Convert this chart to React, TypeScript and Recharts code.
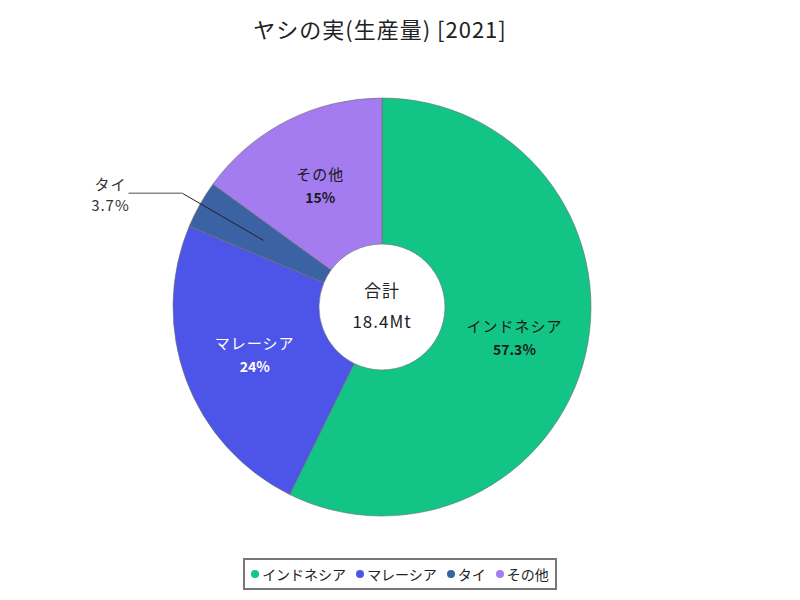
import { PieChart, Pie, Cell, Legend } from 'recharts';

const names = ['インドネシア', 'マレーシア', 'タイ', 'その他'];
const values = [10.54, 4.42, 0.68, 2.76]; // Mt
const colors = ['#13c487', '#4c55e8', '#3b63a3', '#a47cf0'];
const labelColors = ['#1a1a1a', '#ffffff', '#1a1a1a', '#1a1a1a'];
const totalLabel = '18.4Mt';

const data = names.map((name, i) => ({ name, value: values[i] }));
const total = values.reduce((a, b) => a + b, 0);
const font = '"Noto Sans CJK JP", "Noto Sans", sans-serif';
const RAD = Math.PI / 180;

const fmtPct = (v: number) => {
  const s = ((v / total) * 100).toFixed(1);
  return (s.endsWith('.0') ? s.slice(0, -2) : s) + '%';
};

function SliceLabel(props: any) {
  const { cx, cy, midAngle, innerRadius, outerRadius, index } = props;
  const r = (innerRadius + outerRadius) / 2;
  const x = cx + r * Math.cos(-midAngle * RAD);
  const y = cy + r * Math.sin(-midAngle * RAD);
  const name = names[index];
  const pct = fmtPct(values[index]);
  if (values[index] / total < 0.05) {
    // small slice: label outside with a leader line
    const ex = x - 81;
    const ey = y - 47;
    const tx = ex - 54;
    return (
      <g>
        <polyline points={`${x},${y} ${ex},${ey}`} fill="none" stroke="#222" strokeWidth={1} />
        <polyline points={`${ex},${ey} ${tx},${ey}`} fill="none" stroke="#888" strokeWidth={1.5} />
        <text x={tx - 18} y={ey - 10} textAnchor="middle" dominantBaseline="central" fill="#333" fontSize={15} letterSpacing={1} fontFamily={font}>{name}</text>
        <text x={tx - 18} y={ey + 11} textAnchor="middle" dominantBaseline="central" fill="#333" fontSize={15} letterSpacing={1} fontFamily={font}>{pct}</text>
      </g>
    );
  }
  return (
    <g>
      <text x={x} y={y - 12} textAnchor="middle" dominantBaseline="central" fill={labelColors[index]} fontSize={15} letterSpacing={1} fontFamily={font}>{name}</text>
      <text x={x} y={y + 11} textAnchor="middle" dominantBaseline="central" fill={labelColors[index]} fontSize={14} fontWeight="bold" fontFamily={font}>{pct}</text>
    </g>
  );
}

function LegendBox() {
  return (
    <div style={{ display: 'flex', justifyContent: 'center' }}>
      <div style={{ display: 'flex', alignItems: 'center', border: '2px solid #777', padding: '3px 6px', height: 22, fontFamily: font, fontSize: 14, color: '#222', whiteSpace: 'nowrap' }}>
        {names.map((n, i) => (
          <span key={n} style={{ display: 'flex', alignItems: 'center', marginRight: i < names.length - 1 ? 10 : 0 }}>
            <span style={{ width: 8, height: 8, borderRadius: 4, background: colors[i], marginRight: 3, display: 'inline-block' }} />
            {n}
          </span>
        ))}
      </div>
    </div>
  );
}

export default function App() {
  return (
    <div style={{ position: 'absolute', left: 0, top: 0, width: 800, height: 600, background: '#fff', fontFamily: font }}>
      <div style={{ position: 'absolute', top: 12, left: 0, width: 760, textAlign: 'center', fontSize: 22, letterSpacing: 1, color: '#222' }}>
        ヤシの実(生産量) [2021]
      </div>
      <PieChart width={800} height={600} margin={{ top: 0, right: 0, bottom: 0, left: 0 }}>
        <Pie
          data={data}
          dataKey="value"
          nameKey="name"
          cx={382}
          cy={307}
          innerRadius={63}
          outerRadius={209}
          startAngle={90}
          endAngle={-270}
          stroke="rgba(110,110,110,0.6)"
          strokeWidth={1}
          label={SliceLabel}
          labelLine={false}
          isAnimationActive={false}
        >
          {data.map((d, i) => (
            <Cell key={d.name} fill={colors[i]} />
          ))}
        </Pie>
        <Legend verticalAlign="bottom" wrapperStyle={{ bottom: 10, left: 0, width: 800 }} content={() => <LegendBox />} />
      </PieChart>
      <div style={{ position: 'absolute', left: 322, top: 274, width: 120, textAlign: 'center', fontSize: 17, letterSpacing: 1, color: '#222', lineHeight: '31px' }}>
        <div>合計</div>
        <div>{totalLabel}</div>
      </div>
    </div>
  );
}
